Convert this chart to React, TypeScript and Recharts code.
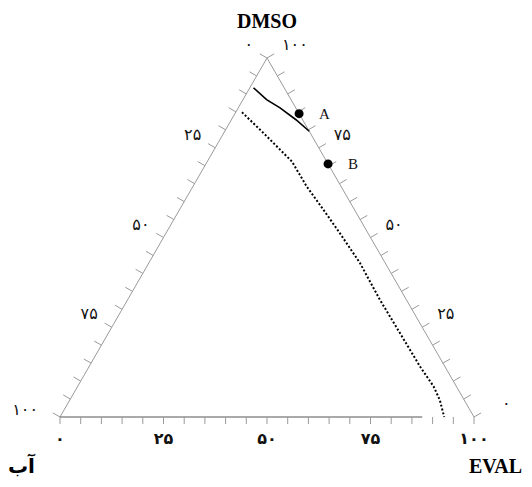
import React from "react";
import { ComposedChart, XAxis, YAxis, Scatter, ReferenceLine } from "recharts";

// ternary helpers: EVAL along the base, DMSO towards the apex, water = rest
const H = Math.sqrt(3) / 2;
const toXY = (ev: number, dm: number) => ({ x: ev + dm / 2, y: dm * H });

const scaleTicks = [0, 5, 10, 15, 20, 25, 30, 35, 40, 45, 50, 55, 60, 65, 70, 75, 80, 85, 90, 95, 100];
const labelValues = [0, 25, 50, 75, 100];
const labelText = ["۰", "۲۵", "۵۰", "۷۵", "۱۰۰"];

// solid binodal segment near the top
const solidDmso = [91.7, 88.4, 86.1, 82.8, 79.6];
const solidEval = [0.9, 5.7, 10.1, 15.6, 20.4];

// dotted curve
const dottedDmso = [84.9, 79.1, 73.6, 71.2, 64.2, 57.7, 51.2, 42.9, 32.6, 23.3, 14.0, 8.5, 4.7, 0];
const dottedEval = [1.5, 9.6, 17.1, 20.4, 27.5, 34.8, 42.0, 51.0, 61.0, 70.5, 80.0, 86.0, 89.4, 92.8];

// marked compositions on the DMSO/EVAL side
const pointNames = ["A", "B"];
const pointDmso = [84.5, 70.5];
const pointEval = [15.5, 29.5];

// where the drawn base line stops (EVAL %)
const baseEnd = 87.5;

const TICK_LEN = 2;
const EDGE = "#9a9a9a";
const DIGIT_FONT = "'Liberation Serif', 'DejaVu Sans', serif";

const solidLine = solidDmso.map((d, i) => toXY(solidEval[i], d));
const dottedLine = dottedDmso.map((d, i) => toXY(dottedEval[i], d));
const points = pointNames.map((n, i) => ({ ...toXY(pointEval[i], pointDmso[i]), name: n }));
const leftLabels = labelValues.map((w, i) => ({ ...toXY(0, 100 - w), text: labelText[i], corner: w === 100 }));
const rightLabels = labelValues.map((d, i) => ({ ...toXY(100 - d, d), text: labelText[i], corner: d === 0 }));

const leftTicks = scaleTicks.map((w) => {
  const p = toXY(0, 100 - w);
  return [p, { x: p.x - TICK_LEN * H, y: p.y + TICK_LEN * 0.5 }];
});
const rightTicks = scaleTicks.map((d) => {
  const p = toXY(100 - d, d);
  return [p, { x: p.x + TICK_LEN * H, y: p.y + TICK_LEN * 0.5 }];
});

const BottomTick = (props: any) => {
  const { x, y, payload } = props;
  const i = labelValues.indexOf(payload.value);
  if (i < 0) return <g />;
  return (
    <text x={x} y={y + 18} textAnchor="middle" fontSize={16} fontWeight="bold" fill="#111" fontFamily={DIGIT_FONT}>
      {labelText[i]}
    </text>
  );
};

const none = () => <g />;

export default function App() {
  return (
    <div style={{ position: "relative", width: 516, height: 471 }}>
      <ComposedChart width={516} height={471} margin={{ top: 50, right: 50, left: 52, bottom: 32 }}>
        <XAxis
          type="number"
          dataKey="x"
          domain={[0, 100]}
          ticks={scaleTicks}
          interval={0}
          axisLine={false}
          tickSize={7}
          tickLine={{ stroke: EDGE }}
          tick={<BottomTick />}
          height={30}
        />
        <YAxis type="number" dataKey="y" domain={[0, 100 * H]} ticks={[0, 100 * H]} hide />

        <ReferenceLine segment={[toXY(0, 0), toXY(0, 100)]} stroke={EDGE} ifOverflow="visible" />
        <ReferenceLine segment={[toXY(100, 0), toXY(0, 100)]} stroke={EDGE} ifOverflow="visible" />
        <ReferenceLine segment={[toXY(0, 0), toXY(baseEnd, 0)]} stroke="#555" ifOverflow="visible" />
        {leftTicks.map((s, i) => (
          <ReferenceLine key={"l" + i} segment={s} stroke={EDGE} ifOverflow="visible" />
        ))}
        {rightTicks.map((s, i) => (
          <ReferenceLine key={"r" + i} segment={s} stroke={EDGE} ifOverflow="visible" />
        ))}

        <Scatter
          data={solidLine}
          line={{ stroke: "#000", strokeWidth: 1.6 }}
          shape={none}
          isAnimationActive={false}
        />
        <Scatter
          data={dottedLine}
          line={{ stroke: "#000", strokeWidth: 2, strokeDasharray: "2 2" }}
          shape={none}
          isAnimationActive={false}
        />
        <Scatter
          data={points}
          isAnimationActive={false}
          shape={(p: any) => (
            <g>
              <circle cx={p.cx} cy={p.cy} r={4.5} fill="#000" />
              <text x={p.cx + 20} y={p.cy + 5} fontSize={15} fill="#111" fontFamily="'Liberation Serif', serif">
                {p.payload.name}
              </text>
            </g>
          )}
        />
        <Scatter
          data={leftLabels}
          isAnimationActive={false}
          shape={(p: any) => (
            <text
              x={p.cx - (p.payload.corner ? 22 : 14)}
              y={p.cy - (p.payload.corner ? 2 : 8)}
              textAnchor="end"
              fontSize={16}
              fill="#111"
              fontFamily={DIGIT_FONT}
            >
              {p.payload.text}
            </text>
          )}
        />
        <Scatter
          data={rightLabels}
          isAnimationActive={false}
          shape={(p: any) => (
            <text
              x={p.cx + (p.payload.corner ? 28 : 15)}
              y={p.cy - 8}
              textAnchor="start"
              fontSize={16}
              fill="#111"
              fontFamily={DIGIT_FONT}
            >
              {p.payload.text}
            </text>
          )}
        />
      </ComposedChart>

      <div style={{ position: "absolute", left: 259, top: 2, transform: "translateX(-50%)", fontFamily: "'Liberation Serif', serif", fontWeight: "bold", fontSize: 20, lineHeight: "22px", whiteSpace: "nowrap" }}>
        DMSO
      </div>
      <div style={{ position: "absolute", left: 461, top: 447, fontFamily: "'Liberation Serif', serif", fontWeight: "bold", fontSize: 20, lineHeight: "22px", whiteSpace: "nowrap" }}>
        EVAL
      </div>
      <div style={{ position: "absolute", left: 0, top: 446, fontFamily: "'DejaVu Sans', serif", fontWeight: "bold", fontSize: 20, lineHeight: "24px", whiteSpace: "nowrap" }}>
        آب
      </div>
    </div>
  );
}
